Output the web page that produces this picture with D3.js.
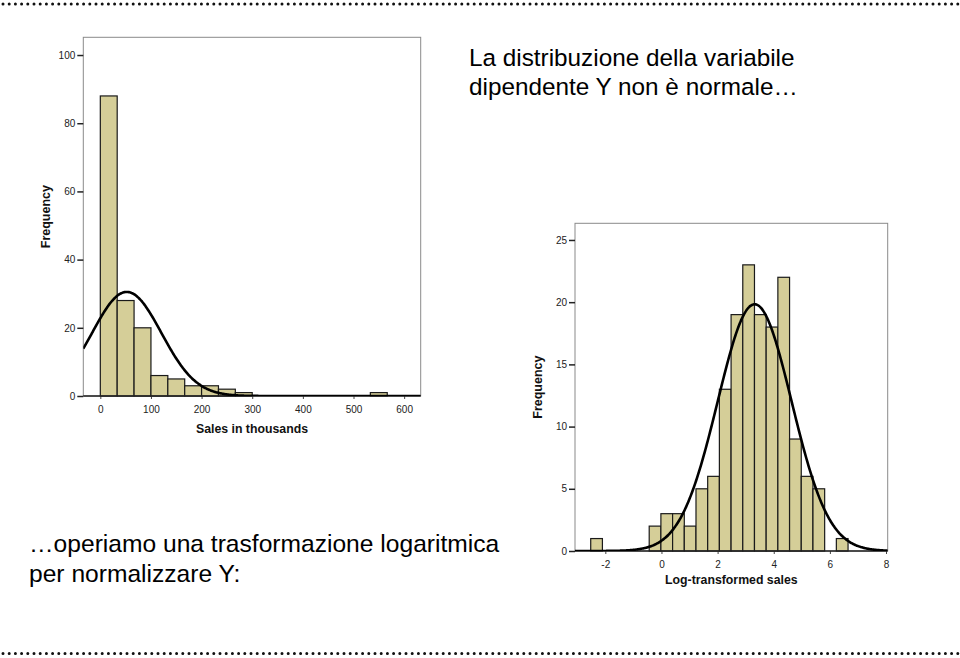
<!DOCTYPE html>
<html>
<head>
<meta charset="utf-8">
<script src="https://cdn.jsdelivr.net/npm/d3@7"></script>
<style>
  html, body { margin: 0; padding: 0; background: #fff; }
  svg { display: block; font-family: "Liberation Sans", Arial, Helvetica, sans-serif; }
</style>
</head>
<body>
<svg id="chart" width="960" height="658"></svg>
<script>
// ---------- DATA ----------
// Left histogram: Sales in thousands
const salesBinStart = 0;
const salesBinWidth = 33.33;
const salesCounts = [88, 28, 20, 6, 5, 3, 3, 2, 1, 0, 0, 0, 0, 0, 0, 0, 1];
const salesXTicks = [0, 100, 200, 300, 400, 500, 600];
const salesYTicks = [0, 20, 40, 60, 80, 100];
const salesNormal = { mean: 52.2, sd: 68.4, n: 157 };

// Right histogram: Log-transformed sales
const logBinStart = -2.52;
const logBinWidth = 0.4167;
const logCounts = [1, 0, 0, 0, 0, 2, 3, 3, 2, 5, 6, 13, 19, 23, 19, 18, 22, 9, 6, 5, 0, 1];
const logXTicks = [-2, 0, 2, 4, 6, 8];
const logYTicks = [0, 5, 10, 15, 20, 25];
const logNormal = { mean: 3.32, sd: 1.316, n: 157 };

const titleLines = ["La distribuzione della variabile", "dipendente Y non è normale…"];
const noteLines = ["…operiamo una trasformazione logaritmica", "per normalizzare Y:"];

// ---------- DRAW ----------
const svg = d3.select("#chart");
const BAR_FILL = "#d5ce98";

// dotted borders
[4, 653.5].forEach(y => {
  svg.append("line")
    .attr("x1", 3).attr("x2", 958).attr("y1", y).attr("y2", y)
    .attr("stroke", "#111").attr("stroke-width", 3)
    .attr("stroke-linecap", "round")
    .attr("stroke-dasharray", "0 6.2");
});

function histogram(cfg) {
  const g = svg.append("g");
  const x = d3.scaleLinear().domain(cfg.xDomain).range([cfg.left, cfg.right]);
  const y = d3.scaleLinear().domain(cfg.yDomain).range([cfg.bottom, cfg.top]);
  const clipId = cfg.id + "-clip";
  svg.append("clipPath").attr("id", clipId)
    .append("rect").attr("x", cfg.left).attr("y", cfg.top - 2)
    .attr("width", cfg.right - cfg.left).attr("height", cfg.bottom - cfg.top + 2);

  // frame
  g.append("rect")
    .attr("x", cfg.left).attr("y", cfg.top)
    .attr("width", cfg.right - cfg.left).attr("height", cfg.bottom - cfg.top)
    .attr("fill", "none").attr("stroke", "#8a8a8a").attr("stroke-width", 1);

  // bars
  const bins = cfg.counts.map((c, i) => ({
    x0: cfg.binStart + i * cfg.binWidth,
    x1: cfg.binStart + (i + 1) * cfg.binWidth,
    c
  })).filter(d => d.c > 0);
  g.append("g").selectAll("rect").data(bins).join("rect")
    .attr("x", d => x(d.x0)).attr("width", d => x(d.x1) - x(d.x0))
    .attr("y", d => y(d.c)).attr("height", d => y(0) - y(d.c))
    .attr("fill", BAR_FILL).attr("stroke", "#1a1a1a").attr("stroke-width", 1.2);

  // y axis
  const yAxis = d3.axisLeft(y).tickValues(cfg.yTicks).tickSize(6).tickPadding(2)
    .tickFormat(d => String(d));
  const ya = g.append("g").attr("transform", `translate(${cfg.left},0)`).call(yAxis);
  ya.select(".domain").remove();
  ya.selectAll(".tick line").attr("stroke", "#222").attr("stroke-width", 1.5);
  ya.selectAll(".tick text").attr("font-size", 10).attr("fill", "#222")
    .attr("font-family", "Liberation Sans, Arial, sans-serif");

  // x axis
  const xAxis = d3.axisBottom(x).tickValues(cfg.xTicks).tickSize(3).tickPadding(7)
    .tickFormat(d => String(d));
  const xa = g.append("g").attr("transform", `translate(0,${cfg.bottom})`).call(xAxis);
  xa.select(".domain").remove();
  xa.selectAll(".tick line").attr("stroke", "#444").attr("stroke-width", 1);
  xa.selectAll(".tick text").attr("font-size", 10).attr("fill", "#222")
    .attr("font-family", "Liberation Sans, Arial, sans-serif");
  g.append("line").attr("x1", cfg.left).attr("x2", cfg.right)
    .attr("y1", cfg.bottom).attr("y2", cfg.bottom)
    .attr("stroke", "#222").attr("stroke-width", 1.5);

  // normal curve
  const nc = cfg.normal;
  const scale = nc.n * cfg.binWidth / (nc.sd * Math.sqrt(2 * Math.PI));
  const xs = d3.range(0, 401).map(i => cfg.xDomain[0] + (cfg.xDomain[1] - cfg.xDomain[0]) * i / 400);
  const line = d3.line()
    .x(v => x(v))
    .y(v => y(scale * Math.exp(-((v - nc.mean) ** 2) / (2 * nc.sd * nc.sd))))
    .curve(d3.curveBasis);
  g.append("path").datum(xs).attr("d", line)
    .attr("clip-path", `url(#${clipId})`)
    .attr("fill", "none").attr("stroke", "#000").attr("stroke-width", 2.6);

  // axis titles
  g.append("text")
    .attr("transform", `translate(${cfg.left - 33},${(cfg.top + cfg.bottom) / 2}) rotate(-90)`)
    .attr("text-anchor", "middle").attr("font-size", 12.5).attr("font-weight", "bold")
    .attr("fill", "#111").text("Frequency");
  g.append("text")
    .attr("x", (cfg.left + cfg.right) / 2).attr("y", cfg.bottom + cfg.xTitleOffset)
    .attr("text-anchor", "middle").attr("font-size", 12.3).attr("font-weight", "bold")
    .attr("fill", "#111").text(cfg.xTitle);
}

histogram({
  id: "sales",
  left: 83.3, right: 420.7, top: 37.3, bottom: 396,
  xDomain: [-33.6, 632.7], yDomain: [0, 105.2],
  counts: salesCounts, binStart: salesBinStart, binWidth: salesBinWidth,
  xTicks: salesXTicks, yTicks: salesYTicks, normal: salesNormal,
  xTitle: "Sales in thousands", xTitleOffset: 37
});

histogram({
  id: "log",
  left: 575, right: 887.7, top: 223.3, bottom: 551,
  xDomain: [-3.08, 8.06], yDomain: [0, 26.34],
  counts: logCounts, binStart: logBinStart, binWidth: logBinWidth,
  xTicks: logXTicks, yTicks: logYTicks, normal: logNormal,
  xTitle: "Log-transformed sales", xTitleOffset: 33
});

// title text
svg.append("g").selectAll("text").data(titleLines).join("text")
  .attr("x", 469).attr("y", (d, i) => 66 + i * 28.5)
  .attr("font-size", 24.3).attr("fill", "#000").text(d => d);

svg.append("g").selectAll("text").data(noteLines).join("text")
  .attr("x", 29).attr("y", (d, i) => 551.5 + i * 30.5)
  .attr("font-size", 24.6).attr("fill", "#000").text(d => d);
</script>
</body>
</html>
